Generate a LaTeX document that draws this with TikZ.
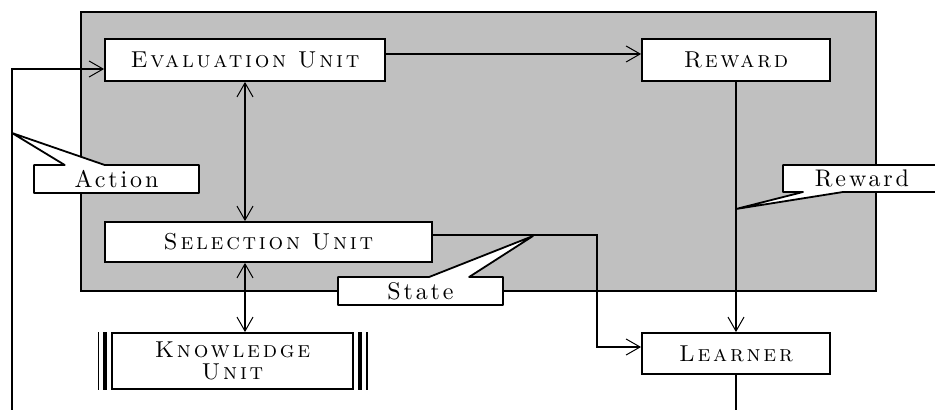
\documentclass[tikz,border=0pt]{standalone}
\usepackage{fontspec}
\usetikzlibrary{arrows.meta, positioning, shapes.callouts}
\definecolor{panelgray}{RGB}{192,192,192}
\newfontfamily\unitfont{lmromancaps10-regular.otf}[LetterSpace=12]
\newfontfamily\tagfont{lmroman10-regular.otf}[LetterSpace=12]

\begin{document}
\begin{tikzpicture}[x=0.5pt, y=-0.5pt,
  unit/.style={draw, fill=white, line width=0.9pt, inner sep=0pt, minimum height=21pt,
    font=\unitfont\fontsize{11.5}{11}\selectfont},
  tag/.style={rectangle callout, draw, fill=white, line width=0.9pt, line join=round, inner sep=0pt,
    minimum width=82.5pt, minimum height=14pt, callout pointer width=20pt,
    font=\tagfont\fontsize{12}{12}\selectfont},
  link/.style={line width=0.9pt, -{Straight Barb[length=7pt, width=8pt, line width=0.5pt]}},
  both/.style={line width=0.9pt, {Straight Barb[length=7pt, width=8pt, line width=0.5pt]}-{Straight Barb[length=7pt, width=8pt, line width=0.5pt]}},
  wire/.style={line width=0.9pt}
]
\useasboundingbox (0,0) rectangle (935,410);
\draw[fill=panelgray, line width=0.9pt] (81,12) rectangle (876,291);

\node[unit, minimum width=140pt] (eval) at (245,60) {Evaluation Unit};
\node[unit, minimum width=94pt] (reward) at (736,60) {Reward};
\node[unit, minimum width=163.5pt, minimum height=20pt] (select) at (268.5,242) {Selection Unit};
\node[unit, minimum width=120.5pt, minimum height=28pt, align=center] (know) at (232.5,361) {Knowledge\\Unit};
\node[unit, minimum width=94pt, minimum height=20.5pt] (learner) at (736,353.5) {Learner};

% bars on the knowledge unit
\foreach \s/\w in {3pt/2pt, 6.5pt/0.6pt} {
  \draw[line width=\w] ([xshift=-\s]know.north west) -- ([xshift=-\s]know.south west);
  \draw[line width=\w] ([xshift=\s]know.north east) -- ([xshift=\s]know.south east);
}

\coordinate (actfoot) at (12,410);
\coordinate (actbend) at (12,69);
\coordinate (stbend) at (597,347);
\coordinate (learnfoot) at (736,410);

\draw[link] ([yshift=3pt]eval.east) -- ([yshift=3pt]eval.east -| reward.west);
\draw[link] (reward) -- (learner);
\draw[both] (eval.south) -- (eval.south |- select.north);
\draw[both] (eval.south |- select.south) -- (eval.south |- know.north);
\draw[link] ([yshift=3.5pt]select.east) -| (stbend) -- (stbend -| learner.west);
\draw[link] (actfoot) -- (actbend) -- (actbend -| eval.west);
\draw[wire] (learner) -- (learnfoot);

\node[tag, callout absolute pointer={(12,133)}] (actlbl) at (116.5,179) {Action};
\node[tag, callout absolute pointer={(533,236)}] (statelbl) at (420.5,291) {State};
\node[tag, minimum width=79pt, minimum height=13.5pt, callout absolute pointer={(736,209)}] (rewlbl) at (862,178.5) {Reward};
\end{tikzpicture}
\end{document}
